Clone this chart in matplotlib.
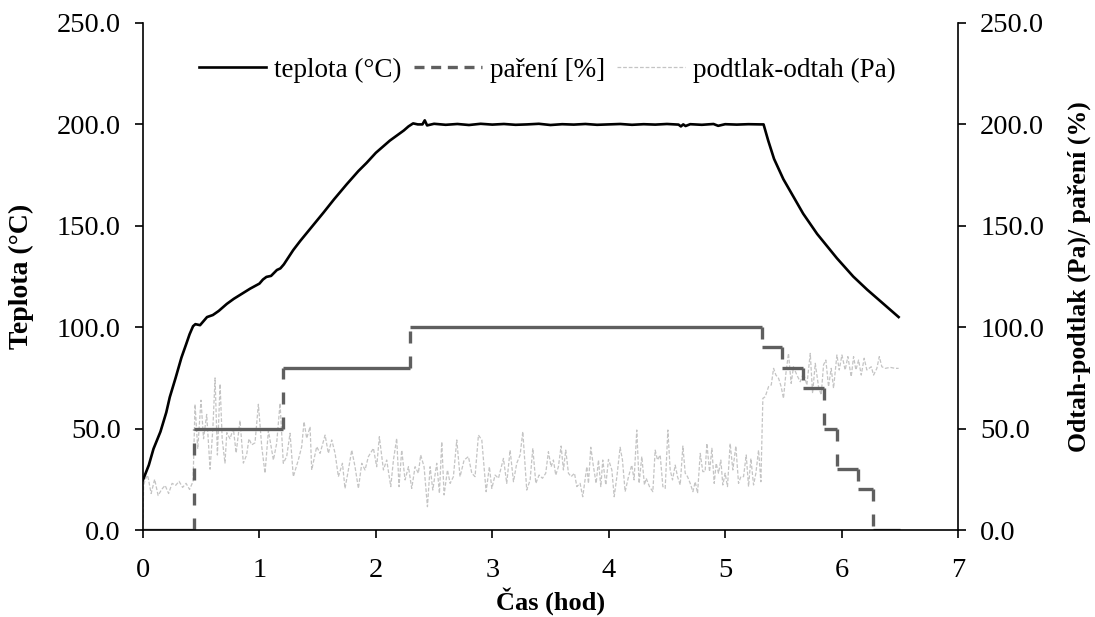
import matplotlib
matplotlib.use("Agg")
import matplotlib.pyplot as plt
from matplotlib.lines import Line2D
from matplotlib.ticker import FormatStrFormatter

plt.rcParams['font.family'] = ['Liberation Serif', 'DejaVu Serif']

# ---------------- data ----------------
temp_t = [0.00, 0.05, 0.09, 0.15, 0.20, 0.23, 0.28, 0.33, 0.37, 0.40, 0.43, 0.45, 0.49, 0.52,
          0.55, 0.60, 0.65, 0.72, 0.78, 0.85, 0.92, 1.00, 1.03, 1.06, 1.10, 1.15, 1.18, 1.21,
          1.25, 1.29, 1.35, 1.45, 1.55, 1.64, 1.75, 1.85, 1.92, 2.00, 2.06, 2.12, 2.18, 2.24,
          2.28, 2.32, 2.36, 2.40, 2.42, 2.44, 2.50, 2.6, 2.7, 2.8, 2.9, 3.0, 3.1, 3.2, 3.3,
          3.4, 3.5, 3.6, 3.7, 3.8, 3.9, 4.0, 4.1, 4.2, 4.3, 4.4, 4.5, 4.6, 4.62, 4.64, 4.66,
          4.7, 4.8, 4.9, 4.94, 5.0, 5.1, 5.2, 5.3, 5.33, 5.37, 5.42, 5.50, 5.59, 5.67, 5.79,
          5.96, 6.10, 6.22, 6.36, 6.49]
temp_v = [24.7, 32.0, 40.0, 48.5, 58.0, 65.5, 75.0, 85.0, 91.5, 96.5, 100.5, 101.5, 101.0, 103.0,
          105.0, 106.0, 108.0, 111.5, 114.0, 116.5, 119.0, 121.5, 123.5, 124.8, 125.3, 128.2, 129.0, 131.0,
          134.5, 138.0, 142.5, 149.5, 156.5, 163.0, 170.5, 177.0, 181.0, 186.0, 189.0, 192.0, 194.5, 197.0,
          199.0, 200.5, 200.0, 200.0, 202.0, 199.5, 200.3, 199.8, 200.2, 199.7, 200.3, 199.9, 200.2, 199.8, 200.0,
          200.3, 199.7, 200.1, 199.9, 200.2, 199.8, 200.0, 200.2, 199.8, 200.1, 199.9, 200.2, 199.9, 199.0, 200.0, 199.2,
          200.1, 199.8, 200.2, 199.3, 200.1, 199.9, 200.1, 200.0, 200.0, 192.0, 183.0, 173.0, 164.0, 156.0, 146.0,
          134.0, 125.0, 118.5, 111.5, 105.0]

steam_t = [0.00, 0.44, 1.205, 2.29, 5.32, 5.49, 5.67, 5.85, 5.96, 6.14, 6.27, 6.50]
steam_v = [0, 50, 80, 100, 90, 80, 70, 50, 30, 20, 0, 0]

press_t = [0.00, 0.005, 0.02, 0.04, 0.07, 0.10, 0.13, 0.16, 0.19, 0.22, 0.25, 0.28, 0.31, 0.34, 0.37,
           0.40, 0.43, 0.447, 0.47, 0.498, 0.52, 0.547, 0.576, 0.60, 0.619, 0.639, 0.662, 0.68, 0.704,
           0.72, 0.747, 0.776, 0.80, 0.833, 0.862, 0.89, 0.91, 0.934, 0.962, 0.991, 1.02, 1.048, 1.077,
           1.120, 1.148, 1.177, 1.205, 1.234, 1.263, 1.291, 1.334, 1.363, 1.383, 1.406, 1.435, 1.449,
           1.492, 1.521, 1.564, 1.592, 1.621, 1.650, 1.678, 1.713, 1.735, 1.764, 1.793, 1.821, 1.850,
           1.879, 1.907, 1.936, 1.979, 2.007, 2.030, 2.065, 2.093, 2.128, 2.151, 2.179, 2.199, 2.222,
           2.251, 2.280, 2.308, 2.337, 2.365, 2.385, 2.414, 2.443, 2.466, 2.489, 2.523, 2.546, 2.566,
           2.586, 2.615, 2.638, 2.666, 2.695, 2.723, 2.758, 2.795, 2.824, 2.852, 2.881, 2.910, 2.947,
           2.975, 2.996, 3.024, 3.053, 3.096, 3.124, 3.153, 3.182, 3.210, 3.239, 3.262, 3.296, 3.325,
           3.348, 3.374, 3.402, 3.431, 3.459, 3.482, 3.505, 3.525, 3.545, 3.568, 3.591, 3.611, 3.631,
           3.654, 3.677, 3.706, 3.726, 3.754, 3.777, 3.812, 3.826, 3.846, 3.869, 3.892, 3.912, 3.932,
           3.949, 3.975, 3.998, 4.027, 4.047, 4.070, 4.098, 4.118, 4.141, 4.170, 4.198, 4.218, 4.241,
           4.261, 4.284, 4.307, 4.322, 4.350, 4.379, 4.399, 4.419, 4.442, 4.465, 4.485, 4.508, 4.528,
           4.548, 4.571, 4.591, 4.614, 4.637, 4.657, 4.677, 4.700, 4.723, 4.743, 4.763, 4.786, 4.808,
           4.828, 4.843, 4.866, 4.886, 4.906, 4.923, 4.943, 4.963, 4.980, 5.000, 5.020, 5.043, 5.066,
           5.092, 5.115, 5.135, 5.158, 5.181, 5.201, 5.221, 5.244, 5.264, 5.287, 5.307, 5.324, 5.344,
           5.373, 5.396, 5.416, 5.436, 5.459, 5.481, 5.501, 5.522, 5.544, 5.567, 5.587, 5.616, 5.645,
           5.673, 5.702, 5.731, 5.751, 5.774, 5.802, 5.825, 5.845, 5.865, 5.888, 5.911, 5.931, 5.960,
           5.980, 6.003, 6.031, 6.054, 6.083, 6.103, 6.123, 6.146, 6.169, 6.194, 6.217, 6.255, 6.275,
           6.303, 6.324, 6.346, 6.375, 6.418, 6.461, 6.490]
press_v = [3, 22, 25, 27, 18, 25, 17, 20, 22, 18, 23, 22, 24, 21, 23,
           20, 24, 62, 40, 64, 45, 57, 30, 50, 75, 37, 72, 45, 33,
           48, 45, 50, 38, 54, 33, 37, 45, 42, 43, 62, 41, 28, 49,
           34.5, 42.7, 62.5, 32.9, 36.2, 47.7, 26.3, 34.5, 41.1, 53.4, 45.2, 50.9, 29.6,
           41.1, 37.8, 46.8, 37.8, 44.4, 37.8, 26.3, 32.9, 20.5, 29.6, 39.4, 31.2, 20.5,
           32.9, 29.6, 36.2, 40.3, 31.2, 46.0, 29.6, 34.5, 21.4, 34.5, 45.2, 21.4, 39.4,
           24.7, 31.2, 20.5, 31.2, 28.0, 37.0, 31.2, 11.5, 31.2, 19.7, 32.9, 18.1, 43.5,
           17.3, 29.6, 23.0, 26.3, 44.4, 26.3, 34.5, 36.2, 28.0, 26.3, 46.8, 44.4, 18.9,
           31.2, 20.5, 27.1, 25.5, 35.3, 23.0, 39.4, 23.8, 32.9, 37.0, 48.5, 19.7, 24.7,
           40.3, 23.0, 27.1, 25.5, 28.0, 38.6, 31.2, 34.5, 27.1, 31.2, 41.4, 29.6, 39.4,
           28.0, 26.3, 28.0, 21.4, 23.0, 16.4, 31.2, 23.0, 40.8, 31.2, 23.0, 34.5, 21.4,
           34.5, 22.2, 34.8, 29.6, 16.4, 26.3, 40.8, 34.5, 18.9, 26.3, 32.0, 24.7, 49.3,
           23.0, 36.2, 22.2, 25.5, 21.4, 18.9, 39.4, 34.5, 37.0, 21.4, 20.5, 49.3, 29.6,
           24.7, 32.0, 26.3, 22.2, 41.4, 28.0, 26.3, 23.0, 18.9, 23.8, 18.1, 37.8, 28.8,
           28.8, 42.7, 28.8, 40.3, 23.0, 32.9, 28.0, 34.5, 22.2, 28.0, 21.4, 42.7, 29.6,
           41.4, 23.0, 26.3, 26.3, 37.0, 21.4, 35.3, 22.2, 28.0, 39.4, 23.8, 64.9, 65.7,
           70.7, 71.5, 79.7, 76.4, 74.8, 70.7, 64.9, 77.3, 87.1, 72.3, 80.5, 76.4, 73.1,
           77.3, 71.5, 87.1, 67.4, 82.2, 70.7, 66.6, 81.4, 83.8, 70.7, 79.7, 69.9, 86.3,
           78.9, 86.3, 78.9, 85.5, 75.6, 85.5, 78.9, 83.8, 76.4, 84.7, 78.9, 80.5, 76.4,
           79.7, 85.5, 80.5, 79.7, 80.2, 79.7, 79.7]

y_ticks = [0, 50, 100, 150, 200, 250]
x_ticks = [0, 1, 2, 3, 4, 5, 6, 7]

# ---------------- figure ----------------
fig = plt.figure(figsize=(10.95, 6.17), dpi=100)
ax = fig.add_axes([143/1095, 1-530/617, (958-143)/1095, (530-23)/617])
ax2 = ax.twinx()

TEMP_C = 'black'
STEAM_C = '#5f5f5f'
PRESS_C = '#c4c4c4'
steam_lw = 2.4
steam_dash = (0, (3.6, 3.9))

# pressure (secondary axis)
ax2.plot(press_t, press_v, color=PRESS_C, lw=0.9, ls=(0, (3, 1.5)), zorder=1)

# steaming, drawn segment by segment so the dash pattern restarts at each vertex
for i in range(len(steam_t) - 1):
    ax2.plot([steam_t[i], steam_t[i + 1]], [steam_v[i], steam_v[i]], color=STEAM_C,
             lw=steam_lw, solid_capstyle='butt', zorder=2)
    if steam_v[i + 1] != steam_v[i]:
        ax2.plot([steam_t[i + 1], steam_t[i + 1]], [steam_v[i], steam_v[i + 1]], color=STEAM_C,
                 lw=steam_lw, ls=steam_dash, dash_capstyle='butt', zorder=2)

# temperature (primary)
ax.plot(temp_t, temp_v, color=TEMP_C, lw=1.9, zorder=3)
ax.set_zorder(ax2.get_zorder() + 1)
ax.patch.set_visible(False)

for a in (ax, ax2):
    a.set_ylim(0, 250)
    a.set_xlim(0, 7)
    a.set_yticks(y_ticks)
    a.yaxis.set_major_formatter(FormatStrFormatter('%.1f'))
    a.spines['top'].set_visible(False)
    for s in a.spines.values():
        s.set_linewidth(1.2)
    a.tick_params(direction='out', length=6, width=1.2, labelsize=20.5, pad=10)

ax.spines['right'].set_visible(False)
ax2.spines['left'].set_visible(False)
ax2.spines['bottom'].set_visible(False)
ax.set_xticks(x_ticks)
ax.tick_params(axis='x', pad=14)

ax.set_xlabel('Čas (hod)', fontsize=19, fontweight='bold')
ax.xaxis.set_label_coords(0.5, -0.113)
ax.set_ylabel('Teplota (°C)', fontsize=20, fontweight='bold')
ax.yaxis.set_label_coords(-0.1335, 0.5)
ax2.set_ylabel('Odtah-podtlak (Pa)/ paření (%)', fontsize=18.5, fontweight='bold')
ax2.yaxis.set_label_coords(1.135, 0.5)

handles = [Line2D([], [], color=TEMP_C, lw=1.9),
           Line2D([], [], color=STEAM_C, lw=steam_lw, ls=(0, (3.0, 2.0))),
           Line2D([], [], color=PRESS_C, lw=0.9, ls=(0, (3, 1.5)))]
labels = ['teplota (°C)', 'paření [%]', 'podtlak-odtah (Pa)']
ax.legend(handles, labels, loc='center', bbox_to_anchor=(0.496, 0.907), ncol=3, frameon=False,
          fontsize=19.5, handlelength=2.5, handletextpad=0.3, columnspacing=0.45, borderaxespad=0)

fig.savefig('out.png', dpi=100)
